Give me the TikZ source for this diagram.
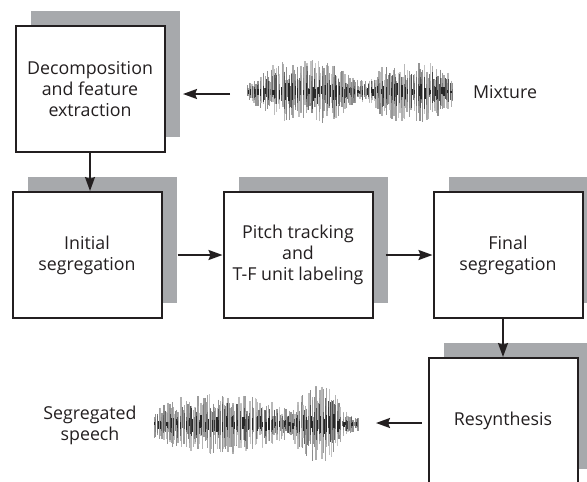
\documentclass[tikz,border=0pt]{standalone}
\usepackage{fontspec}
\setmainfont{Open Sans}
\usetikzlibrary{arrows.meta,shadows}
\definecolor{shade}{HTML}{A7A9AC}
\definecolor{ink}{HTML}{231F20}

% Sound wave: vertical strokes between x0 and x1 around centre y,
% half-height given by an envelope in \t (0..1)
\newcommand\soundwave[5]{%
  \pgfmathsetseed{#5}%
  \foreach \i in {0,...,170}{%
    \pgfmathsetmacro\t{\i/170}%
    \pgfmathsetmacro\xx{#1+(#2-#1)*\t+1.0*rand}%
    \pgfmathsetmacro\A{#4}%
    \pgfmathsetmacro\up{\A*(0.35+0.65*rnd)}%
    \pgfmathsetmacro\dn{\A*(0.35+0.65*rnd)}%
    \pgfmathsetmacro\g{int(25+30*rnd)}%
    \draw[line width=1.3pt, black!\g, opacity=0.85] (\xx,#3-\up) -- (\xx,#3+\dn);
  }%
  \foreach \i in {0,...,110}{%
    \pgfmathsetmacro\t{\i/110}%
    \pgfmathsetmacro\xx{#1+(#2-#1)*\t+1.0*rand}%
    \pgfmathsetmacro\A{#4}%
    \pgfmathsetmacro\up{\A*(0.1+0.6*rnd)}%
    \pgfmathsetmacro\dn{\A*(0.1+0.5*rnd)}%
    \pgfmathsetmacro\g{int(50+40*rnd)}%
    \draw[line width=1.0pt, black!\g, opacity=0.8] (\xx,#3-\up) -- (\xx,#3+\dn);
  }%
  \foreach \i in {0,...,60}{%
    \pgfmathsetmacro\t{\i/60}%
    \pgfmathsetmacro\xx{#1+(#2-#1)*\t+1.5*rand}%
    \pgfmathsetmacro\A{#4}%
    \pgfmathsetmacro\up{\A*(0.05+0.25*rnd)}%
    \pgfmathsetmacro\dn{\A*(0.05+0.25*rnd)}%
    \draw[line width=1.2pt, black!85] (\xx,#3-\up) -- (\xx,#3+\dn);
  }%
}

\begin{document}
\begin{tikzpicture}[x=1pt,y=-1pt,
  stage/.style={draw=ink, line width=2pt, fill=white,
    minimum width=149pt, minimum height=126pt, inner sep=0pt,
    align=center, text=ink, font=\fontsize{17.8}{21}\selectfont,
    general shadow={fill=shade, shadow xshift=15pt, shadow yshift=15pt}},
  lbl/.style={align=center, text=ink, font=\fontsize{17.8}{21}\selectfont},
  arr/.style={draw=ink, line width=2pt,
    -{Stealth[length=14pt,width=10pt,inset=2pt]}}]

\path[use as bounding box, clip] (0,0) rectangle (587,482);

% processing stages
\node[stage] (decomp) at (90,89) {Decomposition\\and feature\\extraction};
\node[stage] (init) at (87,255) {Initial\\segregation};
\node[stage] (pitch) at (298,255) {Pitch tracking\\and\\T-F unit labeling};
\node[stage] (final) at (508,255) {Final\\segregation};
\node[stage] (resyn) at (503,421) {Resynthesis};

% input and output signals
\soundwave{248}{452}{92}{8+24*exp(-((\t-0.28)/0.22)^4)+22*exp(-((\t-0.8)/0.2)^4)}{7}
\soundwave{155}{357}{424}{10+20*exp(-((\t-0.32)/0.3)^4)+28*exp(-((\t-0.81)/0.11)^4)}{21}

\node[lbl] (mixlbl) at (505,92) {Mixture};
\node[lbl] (seglbl) at (90,425) {Segregated\\speech};

% connectors
\coordinate (mixtail) at (230,94);
\coordinate (mixtip) at (183,94);
\coordinate (segtip) at (376,423);

\draw[arr] (mixtail) -- (mixtip);
\draw[arr] (decomp.south) -- (decomp.south |- init.north);
\draw[arr, shorten <=15pt] (init.east) -- (pitch.west);
\draw[arr, shorten <=12pt] (pitch.east) -- (final.west);
\draw[arr] (final.south -| resyn.north) -- (resyn.north);
\draw[arr, shorten <=6pt] (resyn.west |- segtip) -- (segtip);

\end{tikzpicture}
\end{document}
